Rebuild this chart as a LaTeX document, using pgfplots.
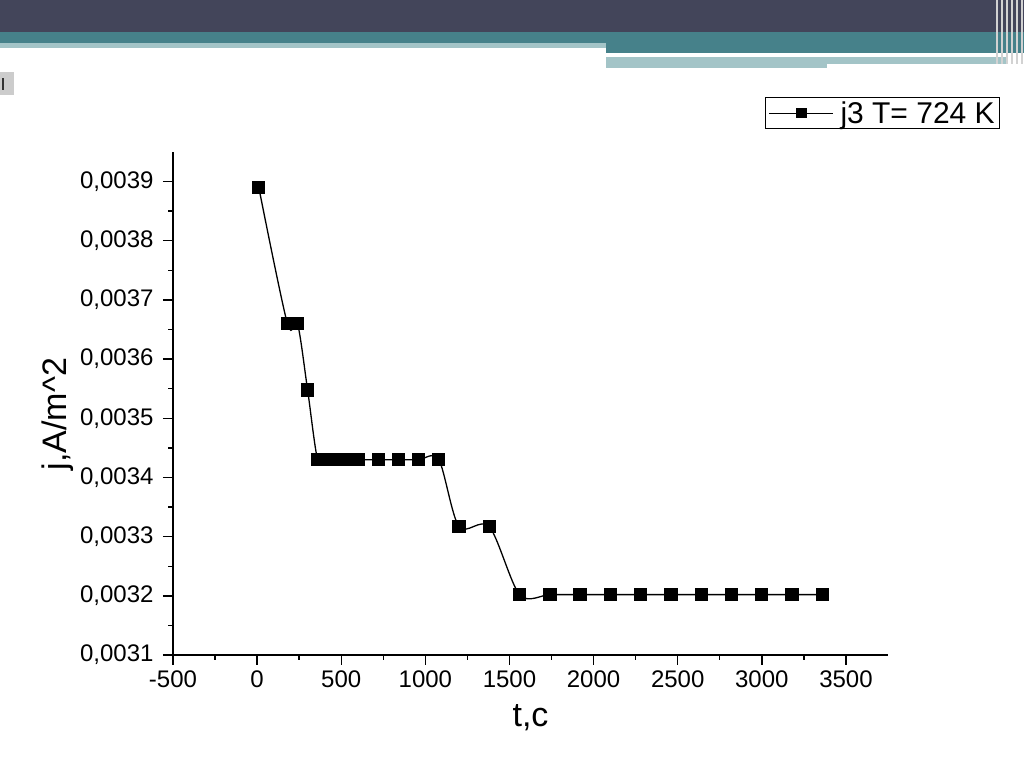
\documentclass[border=0pt]{standalone}
\usepackage{pgfplots}
\pgfplotsset{compat=1.18}
\usepackage{fontspec}
\setmainfont{Liberation Sans}
\definecolor{hdrdark}{HTML}{43455A}
\definecolor{hdrteal}{HTML}{46818A}
\definecolor{hdrlight}{HTML}{A3C4C7}
\begin{document}
\begin{tikzpicture}
\path[use as bounding box, fill=white] (0pt,0pt) rectangle (1024pt,767pt);
% slide header decoration
\fill[hdrdark] (0pt,767pt) rectangle (1024pt,735pt);
\fill[hdrteal] (0pt,735pt) rectangle (1024pt,724pt);
\fill[hdrlight] (0pt,724pt) rectangle (606pt,719pt);
\fill[hdrteal] (606pt,724pt) rectangle (1024pt,714pt);
\fill[hdrlight] (606pt,710pt) rectangle (827pt,699pt);
\fill[hdrlight] (827pt,710pt) rectangle (1006pt,703pt);
\foreach \xx in {996,1001,1006,1011,1016,1021}{\fill[gray!35] (\xx pt,767pt) rectangle (\xx pt+1.6pt,703pt);}
\fill[gray!40] (0pt,672pt) rectangle (14pt,695pt);
\fill[black!80] (2pt,677pt) rectangle (4pt,689pt);
\begin{axis}[
  at={(173pt,112pt)}, anchor=south west,
  scale only axis, width=715pt, height=503pt,
  xmin=-500, xmax=3750, ymin=0.0031, ymax=0.00395,
  axis lines=left, axis line style={-, line width=1.6pt},
  tick align=outside, tick pos=left,
  tick style={line width=1.4pt, black},
  major tick length=10pt, minor tick length=5pt,
  xtick={-500,0,500,...,3500},
  ytick={0.0031,0.0032,0.0033,0.0034,0.0035,0.0036,0.0037,0.0038,0.0039},
  minor x tick num=1, minor y tick num=1,
  scaled y ticks=false, scaled x ticks=false,
  /pgf/number format/assume math mode=true,
  ticklabel style={font=\fontsize{24}{28}\selectfont},
  xticklabel style={yshift=-2pt, /pgf/number format/1000 sep={}},
  yticklabel style={xshift=-6pt, /pgf/number format/.cd, fixed, fixed zerofill, precision=4, use comma},
  xlabel={t,c}, ylabel={j,A/m\textasciicircum 2},
  label style={font=\fontsize{34}{40}\selectfont},
  xlabel style={at={(axis description cs:0.5,-0.125)}, anchor=center},
  ylabel style={at={(axis description cs:-0.161,0.479)}, anchor=center},
  legend style={at={(axis description cs:1.157,1.109)}, anchor=north east,
    draw=black, line width=1pt, font=\fontsize{30}{34}\selectfont,
    inner xsep=3pt, inner ysep=2pt, row sep=0pt},
  legend cell align=left,
  legend image code/.code={%
    \draw[line width=1pt] (-4pt,0pt) -- (60pt,0pt);
    \fill (24pt,-4.5pt) rectangle (33pt,4.5pt);
  },
  clip=false,
]
\addplot[black, line width=1.3pt, smooth, tension=0.5, mark=square*, mark size=6pt,
  mark options={solid, fill=black}] coordinates {
  (10,0.00389) (180,0.00366) (240,0.00366) (300,0.003548)
  (360,0.00343) (420,0.00343) (480,0.00343) (540,0.00343) (600,0.00343)
  (720,0.00343) (840,0.00343) (960,0.00343) (1080,0.00343)
  (1200,0.003317) (1380,0.003317)
  (1560,0.003202) (1740,0.003202) (1920,0.003202) (2100,0.003202)
  (2280,0.003202) (2460,0.003202) (2640,0.003202) (2820,0.003202)
  (3000,0.003202) (3180,0.003202) (3360,0.003202)
};
\addlegendentry{\hspace{5pt}j3 T= 724 K}
\end{axis}
\end{tikzpicture}
\end{document}
